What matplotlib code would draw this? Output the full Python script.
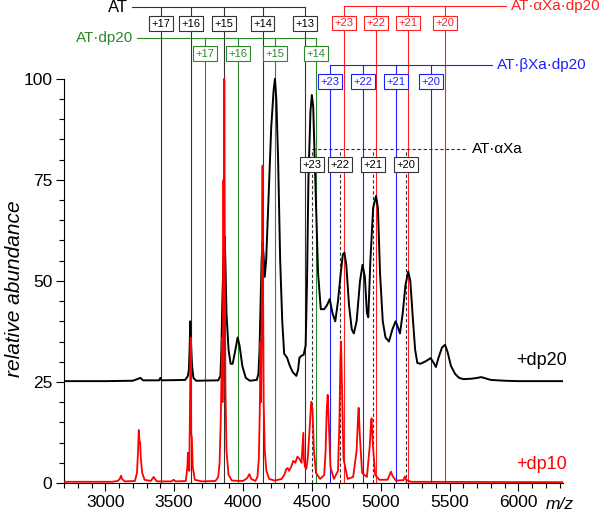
"""
Native MS of antithrombin complexes with dp20 / dp10 heparin.
Charge ladders drawn over two stacked spectra.
"""
import matplotlib

matplotlib.use("Agg")
import matplotlib.pyplot as plt
from matplotlib.ticker import FixedLocator, MultipleLocator
from matplotlib.transforms import blended_transform_factory

plt.rcParams["font.family"] = ["Liberation Sans", "DejaVu Sans"]

# --------------------------------------------------------------------------- #
# Spectra
# --------------------------------------------------------------------------- #
DP20_OFFSET = 25
DP20_MZ = [2700, 3000, 3200, 3240, 3255, 3275, 3390, 3400, 3410, 3580, 3600, 3607,
           3612, 3617, 3621, 3624, 3630, 3640, 3660, 3820, 3836, 3843, 3850, 3855,
           3860, 3866, 3872, 3880, 3895, 3910, 3925, 3945, 3961, 3975, 3995, 4020,
           4050, 4100, 4112, 4120, 4128, 4135, 4142, 4150, 4158, 4168, 4185, 4205,
           4222, 4232, 4242, 4255, 4270, 4285, 4299, 4320, 4340, 4360, 4387, 4400,
           4410, 4425, 4440, 4455, 4465, 4475, 4490, 4500, 4510, 4525, 4545, 4565,
           4590, 4610, 4630, 4650, 4670, 4690, 4710, 4725, 4737, 4750, 4770, 4790,
           4805, 4825, 4850, 4868, 4885, 4900, 4910, 4925, 4945, 4966, 4980, 4995,
           5015, 5035, 5060, 5085, 5108, 5120, 5140, 5160, 5180, 5200, 5215, 5235,
           5250, 5266, 5290, 5320, 5345, 5362, 5380, 5401, 5420, 5445, 5467, 5485,
           5510, 5540, 5570, 5600, 5660, 5700, 5730, 5760, 5800, 5900, 6000, 6320]
DP20_ABUND = [0.2, 0.2, 0.3, 0.8, 1.0, 0.4, 0.4, 1.0, 0.4, 0.5, 1.5, 3,
              8, 15, 11, 8.5, 4, 1, 0.3, 0.4, 1.5, 8, 20, 27,
              33, 36, 30, 17, 8, 4.5, 4.5, 8, 11, 9, 4, 1,
              0.3, 0.5, 2, 8, 20, 30, 34.5, 31, 26, 30, 45, 63,
              72, 75, 70, 55, 30, 15, 7, 6, 4, 2.5, 1.5, 3,
              6, 6.5, 6.7, 9, 25, 50, 67, 71, 68, 50, 27, 18,
              18, 19, 20.5, 17, 15, 20, 27, 31.5, 32, 29, 19, 13,
              12, 15, 25, 29, 26, 17, 16, 30, 43, 46, 43, 27,
              15, 11, 10, 13, 15, 14, 12, 17, 24, 27.3, 25, 15,
              8, 4.7, 4.5, 5, 5.5, 5.9, 5, 3.7, 6, 8.5, 9.2, 7.5,
              4, 2, 1, 0.7, 0.8, 1.0, 1.2, 0.9, 0.5, 0.3, 0.2, 0.2]

DP10_MZ = [2700, 3050, 3090, 3105, 3114, 3122, 3140, 3215, 3230, 3238, 3243, 3248,
           3253, 3258, 3268, 3285, 3330, 3345, 3351, 3360, 3375, 3480, 3496, 3510,
           3585, 3596, 3600, 3605, 3610, 3615, 3620, 3624, 3628, 3635, 3650, 3700,
           3800, 3820, 3830, 3838, 3843, 3847, 3851, 3855, 3858, 3861, 3864, 3868,
           3872, 3880, 3895, 3920, 4000, 4030, 4046, 4060, 4090, 4105, 4115, 4122,
           4127, 4131, 4135, 4139, 4142, 4146, 4150, 4158, 4170, 4190, 4230, 4280,
           4300, 4315, 4324, 4335, 4350, 4365, 4380, 4395, 4410, 4425, 4432, 4438,
           4442, 4450, 4460, 4470, 4485, 4495, 4505, 4515, 4530, 4560, 4590, 4600,
           4608, 4615, 4622, 4635, 4660, 4690, 4700, 4707, 4712, 4718, 4730, 4760,
           4800, 4825, 4835, 4840, 4848, 4865, 4900, 4920, 4930, 4934, 4942, 4960,
           4990, 5050, 5065, 5075, 5085, 5110, 5165, 5175, 5185, 5220, 6320]
DP10_ABUND = [0.3, 0.3, 0.5, 1.0, 1.8, 1.0, 0.4, 0.5, 2.5, 8, 13.1, 10.5,
              10, 6, 2.5, 0.8, 0.5, 1.2, 1.5, 1.0, 0.4, 0.4, 0.8, 0.4,
              0.5, 4, 7.5, 5, 3, 20, 36, 12, 11.5, 4, 0.8, 0.4,
              0.5, 1.5, 5, 15, 25, 36, 20, 28, 75, 40, 100, 55,
              25, 8, 2, 0.6, 0.5, 1.2, 2.2, 1.0, 0.5, 1.5, 6, 18,
              35, 20, 36, 60, 78.5, 45, 20, 8, 3, 1, 0.6, 1,
              2, 3.5, 3.7, 3, 4, 5.5, 5, 6.5, 6, 5, 9, 12.4,
              6, 4, 3.5, 6, 14, 20.1, 18, 8, 2.5, 1, 2, 8,
              18, 21.8, 16, 4, 1, 3, 15, 30, 35, 25, 6, 1,
              1.5, 8, 16, 18.6, 12, 2.5, 1.5, 9, 15, 16, 10, 2,
              0.8, 0.8, 2, 2.8, 1.8, 0.6, 0.7, 1.6, 0.8, 0.3, 0.2]

# --------------------------------------------------------------------------- #
# Charge-state ladders
# --------------------------------------------------------------------------- #
AT_MZ = [3404, 3622, 3864, 4142, 4450]
AT_Z = ["+17", "+16", "+15", "+14", "+13"]
AT_DP20_MZ = [3726, 3961, 4232, 4530]
AT_DP20_Z = ["+17", "+16", "+15", "+14"]
AXA_DP20_MZ = [4736, 4966, 5200, 5469]
AXA_DP20_Z = ["+23", "+22", "+21", "+20"]
BXA_DP20_MZ = [4632, 4874, 5111, 5365]
BXA_DP20_Z = ["+23", "+22", "+21", "+20"]
AXA_MZ = [4501, 4707, 4941, 5184]
AXA_Z = ["+23", "+22", "+21", "+20"]

RED = "#ff2020"
BLUE = "#2020ff"
GREEN = "#2a8a2a"

# name, m/z, charges, colour, line y, box y, bar span, name anchor, ha, ls, name size
LADDERS = [
    ("AT", AT_MZ, AT_Z, "black", 117.7, 113.6, (3196, 4450), 3165, "right", "-", 12),
    ("AT·dp20", AT_DP20_MZ, AT_DP20_Z, GREEN, 110.1, 106.2, (3232, 4530), 3200, "right", "-", 11),
    ("AT·αXa·dp20", AXA_DP20_MZ, AXA_DP20_Z, RED, 118.1, 113.8, (4736, 5912), 5945, "left", "-", 11),
    ("AT·βXa·dp20", BXA_DP20_MZ, BXA_DP20_Z, BLUE, 103.3, 99.3, (4632, 5810), 5845, "left", "-", 11),
    ("AT·αXa", AXA_MZ, AXA_Z, "black", 82.7, 78.7, (4501, 5629), 5665, "left", (0, (3, 2)), 11),
]


def draw_ladder(ax, name, mzs, charges, color, y_line, y_box, span, name_x, ha, ls, size):
    line_color = color if color != "black" else "#333333"
    lw = 0.8
    for mz, z in zip(mzs, charges):
        ax.plot([mz, mz], [0, y_line], color=line_color, lw=lw, ls=ls, zorder=1)
        ax.text(mz, y_box, z, ha="center", va="center", fontsize=8, color=color, zorder=5,
                bbox=dict(boxstyle="square,pad=0.22", fc="white", ec=line_color, lw=0.8))
    ax.plot(span, [y_line, y_line], color=line_color, lw=lw, ls=ls, zorder=1)
    ax.text(name_x, y_line, name, ha=ha, va="center", fontsize=size, color=color, zorder=5)


fig = plt.figure(figsize=(6.0, 5.11), dpi=100)
ax = fig.add_axes([64 / 600, 28 / 511, (563 - 64) / 600, 483 / 511])

for lad in LADDERS:
    draw_ladder(ax, *lad)

ax.plot(DP20_MZ, [v + DP20_OFFSET for v in DP20_ABUND], color="black", lw=1.4, zorder=3)
ax.plot(DP10_MZ, DP10_ABUND, color="#ff0000", lw=1.3, zorder=3)

ax.text(5985, 30.4, "+dp20", fontsize=13, color="black", va="center")
ax.text(5985, 4.5, "+dp10", fontsize=13, color="#ff0000", va="center")

ax.set_xlim(2700, 6324)
ax.set_ylim(0, 119.5)
ax.spines["top"].set_visible(False)
ax.spines["right"].set_visible(False)
ax.spines["left"].set_bounds(0, 100)
ax.set_yticks([0, 25, 50, 75, 100])
ax.yaxis.set_minor_locator(FixedLocator(list(range(0, 101, 5))))
ax.set_xticks([3000, 3500, 4000, 4500, 5000, 5500, 6000])
ax.xaxis.set_minor_locator(MultipleLocator(100))
ax.tick_params(which="major", length=6, width=0.8, labelsize=12.5, direction="out", pad=2.5)
ax.tick_params(which="minor", length=3.5, width=0.8, direction="out")
ax.set_ylabel("relative abundance", style="italic", fontsize=15)
ax.yaxis.set_label_coords(-0.08, 0.402)

trans = blended_transform_factory(ax.transData, ax.transAxes)
ax.text(6195, -0.044, "m/z", style="italic", fontsize=12.5, ha="left", va="center",
        transform=trans, clip_on=False)

fig.savefig("out.png", dpi=100)
